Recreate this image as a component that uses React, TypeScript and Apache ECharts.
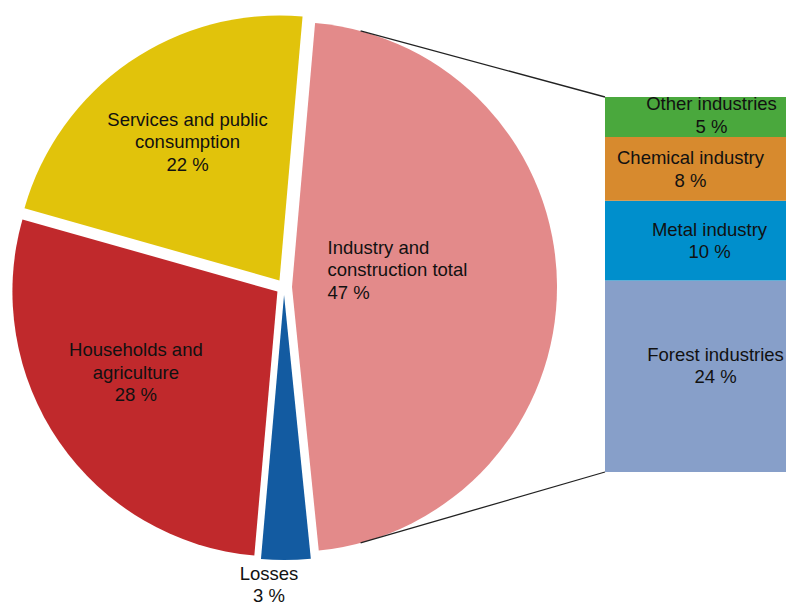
import React, { useEffect, useRef } from "react";
import * as echarts from "echarts";

// ---- data ----
const pieNames = [
  "Industry and\nconstruction total",
  "Losses",
  "Households and\nagriculture",
  "Services and public\nconsumption",
];
const pieValues = [47, 3, 28, 22];

const barNames = ["Forest industries", "Metal industry", "Chemical industry", "Other industries"];
const barValues = [24, 10, 8, 5];
const barCategory = ["Industry and construction"];

// ---- styles ----
const pieColors = ["#E38A8A", "#135BA1", "#C0292C", "#E1C30B"];
const barColors = ["#879FC9", "#008FCC", "#D78A2E", "#4AA83D"];
const pieLabelAdjust = [
  { dx: -100, dy: -16, align: "left" },
  { dx: -16, dy: 154 },
  { dx: -30, dy: 4 },
  { dx: -15, dy: -27 },
];
const barLabelOffsets = [
  [20, -11],
  [14, 0],
  [-5, 0],
  [16, -2],
];

const PIE_CENTER = [284, 287];
const PIE_RADIUS = 265;
const EXPLODE = 8;
const START_ANGLE = 85;
const GRID = { left: 605, top: 97, width: 210, height: 375 };
const FONT = "'Liberation Sans', Arial, sans-serif";
const FS = 18.5;
const LH = 22.5;

export default function App() {
  const ref = useRef<HTMLDivElement>(null);
  useEffect(() => {
    if (!ref.current) return;
    const chart = echarts.init(ref.current, undefined, { renderer: "svg" });
    const total = pieValues.reduce((a, b) => a + b, 0);
    const barTotal = barValues.reduce((a, b) => a + b, 0);
    chart.setOption({
      animation: false,
      textStyle: { fontFamily: FONT },
      grid: { ...GRID },
      xAxis: { type: "category", data: barCategory, show: false },
      yAxis: { type: "value", min: 0, max: barTotal, show: false },
      series: [
        {
          type: "pie",
          center: PIE_CENTER,
          radius: PIE_RADIUS,
          startAngle: START_ANGLE,
          clockwise: true,
          selectedMode: "multiple",
          selectedOffset: EXPLODE,
          silent: true,
          label: {
            show: true,
            position: "inside",
            formatter: "{b}\n{c} %",
            color: "#111",
            fontSize: FS,
            lineHeight: LH,
            fontFamily: FONT,
          },
          labelLine: { show: false },
          labelLayout: (p: any) => pieLabelAdjust[p.dataIndex],
          data: pieNames.map((n, i) => ({
            name: n,
            value: pieValues[i],
            selected: true,
            itemStyle: { color: pieColors[i] },
          })),
        },
        ...barNames.map((n, i) => ({
          type: "bar",
          name: n,
          stack: "ind",
          barWidth: "100%",
          silent: true,
          itemStyle: { color: barColors[i] },
          label: {
            show: true,
            position: "inside",
            formatter: "{a}\n{c} %",
            color: "#111",
            fontSize: FS,
            lineHeight: LH,
            fontFamily: FONT,
            offset: barLabelOffsets[i],
          },
          data: [barValues[i]],
        })),
      ],
    });

    // connector lines from the exploded industry slice to the bar
    const startDeg = 90 - START_ANGLE;
    const span = (360 * pieValues[0]) / total;
    const mid = ((startDeg + span / 2) * Math.PI) / 180;
    const ax = PIE_CENTER[0] + EXPLODE * Math.sin(mid);
    const ay = PIE_CENTER[1] - EXPLODE * Math.cos(mid);
    const a1 = (15 * Math.PI) / 180;
    const a2 = (165 * Math.PI) / 180;
    const yTop = chart.convertToPixel({ yAxisIndex: 0 }, barTotal) as number;
    const yBot = chart.convertToPixel({ yAxisIndex: 0 }, 0) as number;
    const bx = GRID.left;
    chart.setOption({
      graphic: [
        {
          type: "line",
          shape: {
            x1: ax + PIE_RADIUS * Math.sin(a1),
            y1: ay - PIE_RADIUS * Math.cos(a1),
            x2: bx,
            y2: yTop,
          },
          style: { stroke: "#222", lineWidth: 1.3 },
          z: 10,
        },
        {
          type: "line",
          shape: {
            x1: ax + PIE_RADIUS * Math.sin(a2),
            y1: ay - PIE_RADIUS * Math.cos(a2),
            x2: bx,
            y2: yBot,
          },
          style: { stroke: "#222", lineWidth: 1.3 },
          z: 10,
        },
      ],
    });
    return () => chart.dispose();
  }, []);
  return (
    <div
      ref={ref}
      style={{ position: "absolute", left: 0, top: 0, width: 786, height: 605, background: "#fff" }}
    />
  );
}
